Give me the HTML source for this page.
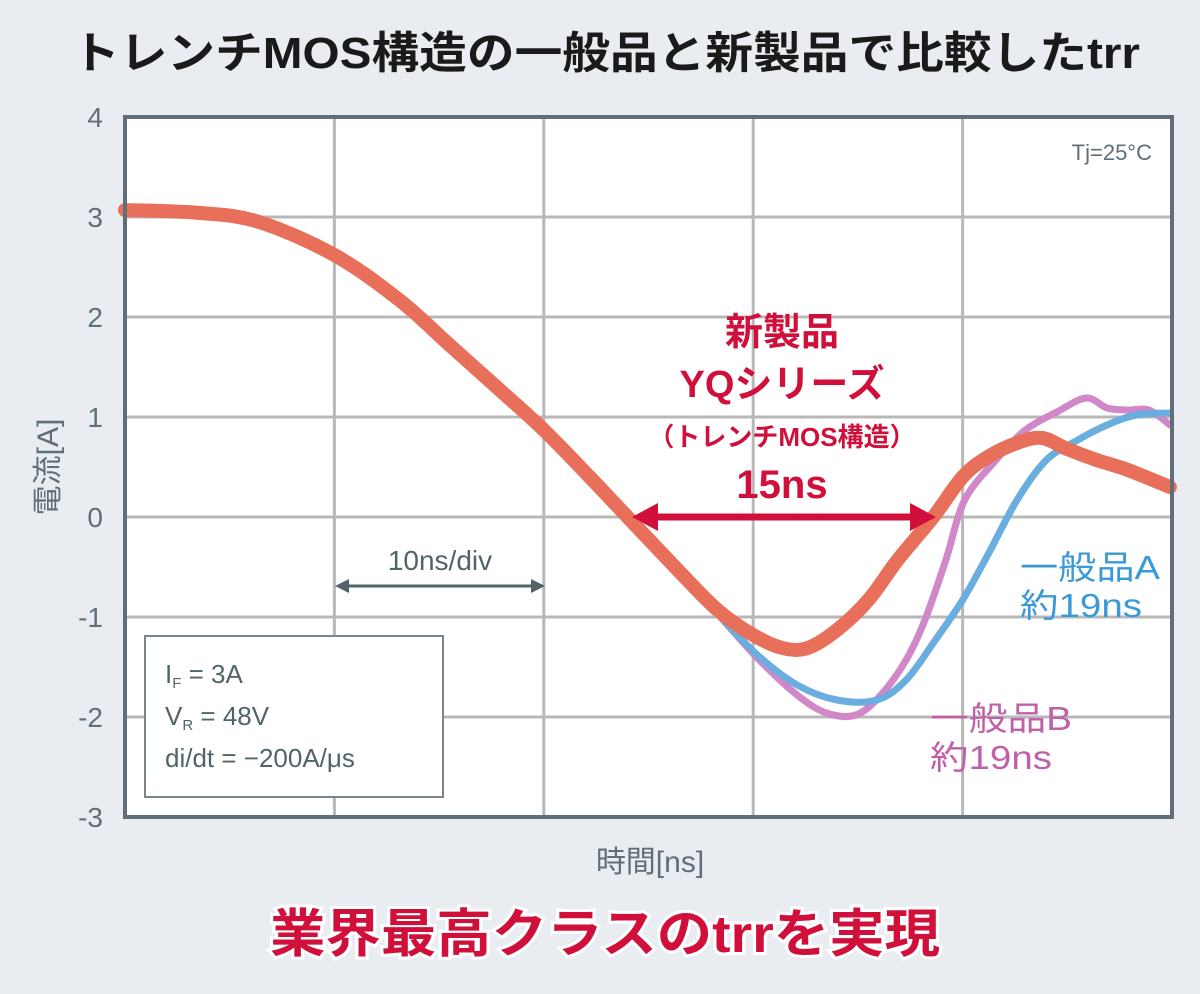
<!DOCTYPE html>
<html><head><meta charset="utf-8"><style>
html,body{margin:0;padding:0;background:#e9edf2;}
svg{display:block;font-family:"Liberation Sans","Noto Sans CJK JP",sans-serif;}
</style></head><body>
<svg id="chart" width="1200" height="994" viewBox="0 0 1200 994">
<rect width="1200" height="994" fill="#e9edf2"/>
<text x="72" y="68" textLength="1068" lengthAdjust="spacingAndGlyphs" font-size="44" font-weight="bold" fill="#1a1a1a">トレンチMOS構造の一般品と新製品で比較したtrr</text>
<rect x="125" y="117" width="1047" height="700" fill="#fff"/>
<g id="grid"></g>
<g id="series"></g>
<rect x="125" y="117" width="1047" height="700" fill="none" stroke="#5f6e78" stroke-width="4"/>
<g id="yticks"></g>
<text x="58" y="467" text-anchor="middle" font-size="30" fill="#5f6e78" transform="rotate(-90 58 467)">電流[A]</text>
<text x="650" y="872" text-anchor="middle" font-size="30" fill="#5f6e78">時間[ns]</text>
<text x="1152" y="160" text-anchor="end" font-size="22" fill="#5f6e78">Tj=25°C</text>
<g fill="#d0103a" font-weight="bold" text-anchor="middle">
<text x="782" y="345" font-size="38">新製品</text>
<text x="782" y="397" font-size="38">YQシリーズ</text>
<text x="782" y="446" font-size="26">（トレンチMOS構造）</text>
<text x="782" y="498" font-size="40">15ns</text>
</g>
<g>
<line x1="650" y1="517" x2="918" y2="517" stroke="#d0103a" stroke-width="7"/>
<polygon points="632,517 658,503 658,531" fill="#d0103a"/>
<polygon points="936,517 910,503 910,531" fill="#d0103a"/>
</g>
<g>
<line x1="345" y1="586" x2="535" y2="586" stroke="#50646a" stroke-width="3"/>
<polygon points="335,586 349,579 349,593" fill="#50646a"/>
<polygon points="545,586 531,579 531,593" fill="#50646a"/>
<text x="440" y="570" text-anchor="middle" font-size="28" fill="#50646a">10ns/div</text>
</g>
<g>
<rect x="145" y="636" width="298" height="161" fill="#fff" stroke="#7a858c" stroke-width="2"/>
<text x="165" y="683" font-size="26" fill="#50646a">I<tspan font-size="15" dy="5">F</tspan><tspan dy="-5"> = 3A</tspan></text>
<text x="165" y="725" font-size="26" fill="#50646a">V<tspan font-size="15" dy="5">R</tspan><tspan dy="-5"> = 48V</tspan></text>
<text x="165" y="767" font-size="26" fill="#50646a">di/dt = −200A/μs</text>
</g>
<g fill="#3a9ad8" font-size="33">
<text x="1020" y="579" textLength="140" lengthAdjust="spacingAndGlyphs">一般品A</text><text x="1020" y="617" textLength="122" lengthAdjust="spacingAndGlyphs">約19ns</text>
</g>
<g fill="#c060a8" font-size="33">
<text x="930" y="730" textLength="142" lengthAdjust="spacingAndGlyphs">一般品B</text><text x="930" y="769" textLength="122" lengthAdjust="spacingAndGlyphs">約19ns</text>
</g>
<text x="270" y="952" textLength="670" lengthAdjust="spacingAndGlyphs" font-size="52" font-weight="bold" fill="#d0103a" stroke="#fff" stroke-width="6" paint-order="stroke">業界最高クラスのtrrを実現</text>
</svg>
<script>
const yTicks=[4,3,2,1,0,-1,-2,-3];
const xTicks=[0,10,20,30,40,50];
const tNew=[0,3.6,6.4,10,13.1,15.5,17.9,20,22.1,24,26.4,28.3,30,31.4,32.6,34,35.5,36.9,38.6,40,41.2,42.6,43.8,45,46.4,47.9,49.9];
const vNew=[3.07,3.04,2.95,2.62,2.17,1.72,1.27,0.87,0.42,0,-0.53,-0.93,-1.18,-1.31,-1.31,-1.13,-0.83,-0.43,0,0.4,0.6,0.74,0.79,0.68,0.57,0.47,0.3];
const tA=[0,3.6,6.4,10,13.1,15.5,17.9,20,22.1,24,26.4,28.3,30.2,32.1,34,35.9,37.3,38.7,40,41.2,42.6,44,45.5,46.9,48.3,49.9];
const vA=[3.05,3.02,2.93,2.6,2.15,1.7,1.25,0.85,0.4,-0.02,-0.55,-0.97,-1.38,-1.68,-1.83,-1.83,-1.63,-1.23,-0.83,-0.38,0.17,0.57,0.77,0.92,1.02,1.04];
const tB=[0,3.6,6.4,10,13.1,15.5,17.9,20,22.1,24,26.4,28.3,30.2,32.1,33.5,34.9,36.1,37.3,38.2,39.2,40.1,41.6,43,44.5,45.9,46.9,47.9];
const vB=[3.05,3.02,2.93,2.6,2.15,1.7,1.25,0.85,0.4,-0.02,-0.55,-0.97,-1.41,-1.78,-1.96,-1.98,-1.78,-1.43,-1.03,-0.43,0.17,0.57,0.87,1.05,1.19,1.09,1.07];
const tB2=[48.9,49.9];
const vB2=[1.07,0.92];
const X0=125,X1=1172,Y0=817,Y1=117;
const xs=t=>X0+(t-0)/(50-0)*(X1-X0);
const ys=v=>Y0-(v-(-3))/(4-(-3))*(Y0-Y1);
const NS='http://www.w3.org/2000/svg';
const grid=document.getElementById('grid');
yTicks.forEach(v=>{
 const l=document.createElementNS(NS,'line');
 l.setAttribute('x1',X0);l.setAttribute('x2',X1);l.setAttribute('y1',ys(v));l.setAttribute('y2',ys(v));
 l.setAttribute('stroke','#b8b8b8');l.setAttribute('stroke-width','3');
 
 
 grid.appendChild(l);
 const t=document.createElementNS(NS,'text');
 t.setAttribute('x',103);t.setAttribute('y',ys(v)+10);t.setAttribute('text-anchor','end');
 t.setAttribute('font-size','28');t.setAttribute('fill','#5f6e78');t.textContent=v;
 
 
 document.getElementById('yticks').appendChild(t);
});
xTicks.forEach(v=>{
 const l=document.createElementNS(NS,'line');
 l.setAttribute('x1',xs(v));l.setAttribute('x2',xs(v));l.setAttribute('y1',Y1);l.setAttribute('y2',Y0);
 l.setAttribute('stroke','#b8b8b8');l.setAttribute('stroke-width','3');
 
 
 grid.appendChild(l);
});
const ser=document.getElementById('series');
function line(ts,vs,color,w,name){
 const p=document.createElementNS(NS,'path');
 const pts=ts.map((t,i)=>[xs(t),ys(vs[i])]);
 let d='M'+pts[0][0]+','+pts[0][1];
 for(let i=0;i<pts.length-1;i++){
  const p0=pts[Math.max(0,i-1)],p1=pts[i],p2=pts[i+1],p3=pts[Math.min(pts.length-1,i+2)];
  const c1=[p1[0]+(p2[0]-p0[0])/6,p1[1]+(p2[1]-p0[1])/6];
  const c2=[p2[0]-(p3[0]-p1[0])/6,p2[1]-(p3[1]-p1[1])/6];
  d+=' C'+c1+' '+c2+' '+p2;
 }
 p.setAttribute('d',d);p.setAttribute('fill','none');p.setAttribute('stroke',color);
 p.setAttribute('stroke-width',w);p.setAttribute('stroke-linejoin','round');p.setAttribute('stroke-linecap','round');
 
 
 ser.appendChild(p);
}
line(tB.concat(tB2),vB.concat(vB2),'#d088c8',7,'series-product-b');
line(tA,vA,'#6aaee0',7,'series-product-a');
line(tNew,vNew,'#e8705a',14,'series-new-product');
</script>
</body></html>
